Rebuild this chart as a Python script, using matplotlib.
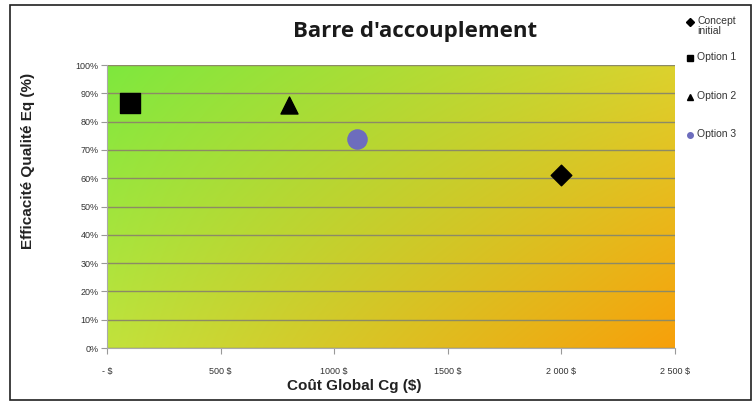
import numpy as np
import matplotlib
matplotlib.use("Agg")
import matplotlib.pyplot as plt
from matplotlib.lines import Line2D
from matplotlib.patches import Rectangle
from matplotlib.colors import to_rgb

# Data
series = ["Concept\ninitial", "Option 1", "Option 2", "Option 3"]
cost = [2000, 100, 800, 1100]          # Coût global ($)
quality = [0.61, 0.865, 0.86, 0.74]    # Efficacité qualité (fraction)
markers = ["D", "s", "^", "o"]
colors = ["#000000", "#000000", "#000000", "#6d6dbd"]
sizes = [110, 190, 150, 190]

x_ticks = [0, 500, 1000, 1500, 2000, 2500]
x_tick_labels = ["- $", "500 $", "1000 $", "1500 $", "2 000 $", "2 500 $"]
y_ticks = [i / 10 for i in range(11)]
y_tick_labels = [f"{i * 10}%" for i in range(11)]

W, H = 755, 403
fig = plt.figure(figsize=(W / 100, H / 100), dpi=100)
fig.patch.set_facecolor("white")

# outer frame of the chart
fig.add_artist(Rectangle((10 / W, 3 / H), 741 / W, 395 / H, transform=fig.transFigure,
                         fill=False, edgecolor="#202020", linewidth=1.2))

ax = fig.add_axes([107 / W, 1 - 348 / H, 568 / W, 283 / H])
ax.set_xlim(0, 2500)
ax.set_ylim(0, 1.0)

# diagonal green-to-orange gradient background
tl = np.array(to_rgb("#7ee83e"))
tr = np.array(to_rgb("#dcd22e"))
bl = np.array(to_rgb("#c2e23c"))
br = np.array(to_rgb("#f7a00a"))
ny, nx = 100, 200
u = np.linspace(0, 1, nx)[None, :, None]
v = np.linspace(0, 1, ny)[:, None, None]
grad = (1 - v) * ((1 - u) * tl + u * tr) + v * ((1 - u) * bl + u * br)
ax.imshow(grad, extent=[0, 2500, 0, 1.0], aspect="auto", origin="upper", zorder=0,
          interpolation="bilinear")

for yt in y_ticks:
    ax.axhline(yt, color="#8c8a66", linewidth=1.0, zorder=1)

for c, q, m, col, s, lab in zip(cost, quality, markers, colors, sizes, series):
    ax.scatter([c], [q], marker=m, s=s, color=col, edgecolors=col, zorder=3, label=lab)

ax.set_xticks(x_ticks)
ax.set_xticklabels(x_tick_labels, fontsize=6.5, family="Liberation Sans", color="#333333")
ax.set_yticks(y_ticks)
ax.set_yticklabels(y_tick_labels, fontsize=6.5, family="Liberation Sans", color="#333333")
ax.tick_params(axis="both", length=4, color="#999999")
ax.tick_params(axis="x", pad=10)
ax.tick_params(axis="y", pad=2)
for side in ["top", "right"]:
    ax.spines[side].set_visible(False)
for side in ["left", "bottom"]:
    ax.spines[side].set_color("#aaaaaa")

ax.set_xlabel("Coût Global Cg ($)", fontsize=11, fontweight="bold", family="Liberation Sans",
              color="#222222")
ax.xaxis.set_label_coords((354 - 107) / 568, (348 - 379) / 283)
ax.set_ylabel("Efficacité Qualité Eq (%)", fontsize=11, fontweight="bold",
              family="Liberation Sans", color="#222222")
ax.yaxis.set_label_coords((35 - 107) / 568, (348 - 161) / 283)

fig.text(415 / W, 1 - 31 / H, "Barre d'accouplement", fontsize=16, fontweight="bold",
         family="Open Sans", ha="center", va="center", color="#1a1a1a")

# legend entries at the right
leg_y = [22, 58, 97, 135]
leg_ms = [4, 4.5, 4.5, 4]
for lab, m, col, ms, yy in zip(series, markers, colors, leg_ms, leg_y):
    fig.add_artist(Line2D([690 / W], [1 - yy / H], marker=m, color=col, markersize=ms,
                          linestyle="none", transform=fig.transFigure))
    fig.text(697 / W, 1 - (yy - 6) / H, lab, fontsize=7.5, family="Liberation Sans",
             ha="left", va="top", color="#333333", linespacing=1.0)

fig.savefig("out.png", dpi=100)
